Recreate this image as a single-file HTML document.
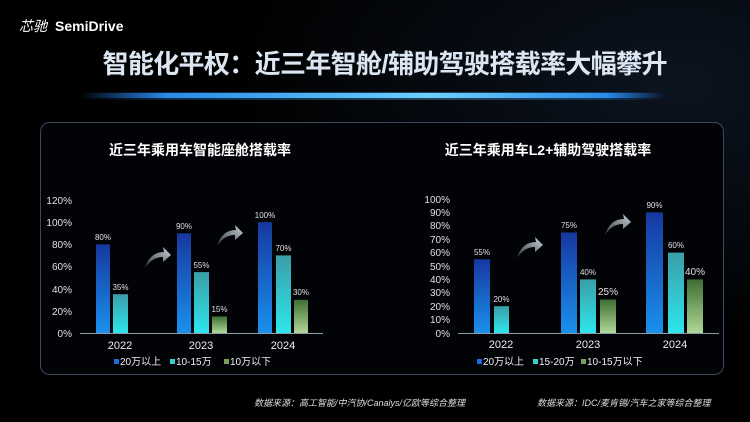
<!DOCTYPE html>
<html><head><meta charset="utf-8"><style>
html,body{margin:0;padding:0;background:#000;width:750px;height:422px;overflow:hidden}
svg{display:block}
text{font-family:"Liberation Sans","Noto Sans CJK SC",sans-serif}
</style></head><body>
<svg width="750" height="422" viewBox="0 0 750 422" xmlns="http://www.w3.org/2000/svg">
<defs>
<linearGradient id="bl" x1="0" y1="0" x2="0" y2="1"><stop offset="0" stop-color="#1638a0"/><stop offset="1" stop-color="#1a90ec"/></linearGradient>
<linearGradient id="cy" x1="0" y1="0" x2="0" y2="1"><stop offset="0" stop-color="#3a9ea8"/><stop offset="1" stop-color="#2ee6ec"/></linearGradient>
<linearGradient id="gr" x1="0" y1="0" x2="0" y2="1"><stop offset="0" stop-color="#3e6e34"/><stop offset="1" stop-color="#b0d898"/></linearGradient>
<linearGradient id="glow" x1="0" y1="0" x2="1" y2="0"><stop offset="0" stop-color="#1a6ad0" stop-opacity="0"/><stop offset="0.15" stop-color="#2a8ae8"/><stop offset="0.6" stop-color="#6ad0ff"/><stop offset="0.9" stop-color="#2a8ae8"/><stop offset="1" stop-color="#1a6ad0" stop-opacity="0"/></linearGradient>
<linearGradient id="arr" x1="0" y1="1" x2="1" y2="0"><stop offset="0" stop-color="#333"/><stop offset="1" stop-color="#c8d4e0"/></linearGradient>
<radialGradient id="bg" cx="0.9" cy="0.2" r="0.6"><stop offset="0" stop-color="#0c1420"/><stop offset="1" stop-color="#000"/></radialGradient>
</defs>
<rect width="750" height="422" fill="url(#bg)"/>
<text x="19" y="31" font-size="14" fill="#fff" font-style="italic">芯驰</text>
<text x="55" y="31" font-size="14" font-weight="bold" fill="#fff">SemiDrive</text>
<text x="385" y="73" font-size="26" font-weight="bold" fill="#dce6f2" text-anchor="middle" textLength="565">智能化平权：近三年智舱/辅助驾驶搭载率大幅攀升</text>
<rect x="80" y="93" width="585" height="5" rx="2.5" fill="url(#glow)"/>
<rect x="80" y="92" width="585" height="8" rx="4" fill="url(#glow)" opacity="0.3"/>
<rect x="40.5" y="122.5" width="683" height="252" rx="9" fill="#020306" stroke="#3a4a5c" stroke-width="1"/>
<text x="200" y="155" font-size="14" font-weight="bold" fill="#fff" text-anchor="middle">近三年乘用车智能座舱搭载率</text>
<text x="548" y="155" font-size="14" font-weight="bold" fill="#fff" text-anchor="middle">近三年乘用车L2+辅助驾驶搭载率</text>
<!-- left chart -->
<g font-size="10" fill="#e0e0e0" text-anchor="end">
<text x="72" y="204">120%</text><text x="72" y="226">100%</text><text x="72" y="248">80%</text><text x="72" y="270">60%</text><text x="72" y="293">40%</text><text x="72" y="315">20%</text><text x="72" y="337">0%</text>
</g>
<rect x="96" y="244.4" width="14" height="88.6" fill="url(#bl)"/>
<rect x="113" y="294.2" width="15" height="38.8" fill="url(#cy)"/>
<rect x="177" y="233.3" width="14" height="99.7" fill="url(#bl)"/>
<rect x="194" y="272.1" width="15" height="60.9" fill="url(#cy)"/>
<rect x="212" y="316.4" width="15" height="16.6" fill="url(#gr)"/>
<rect x="258" y="222.2" width="14" height="110.8" fill="url(#bl)"/>
<rect x="276" y="255.4" width="15" height="77.6" fill="url(#cy)"/>
<rect x="294" y="299.8" width="14" height="33.2" fill="url(#gr)"/>
<line x1="80" y1="333.5" x2="323" y2="333.5" stroke="#8a9aa8" stroke-width="1"/>
<g font-size="8" fill="#e0e0e0" text-anchor="middle">
<text x="103" y="240">80%</text><text x="120.5" y="290">35%</text>
<text x="184" y="229">90%</text><text x="201.5" y="268">55%</text><text x="219.5" y="312">15%</text>
<text x="265" y="218">100%</text><text x="283.5" y="251">70%</text><text x="301" y="295">30%</text>
</g>
<g font-size="11" fill="#eee" text-anchor="middle">
<text x="120" y="349">2022</text><text x="201" y="349">2023</text><text x="283" y="349">2024</text>
</g>
<g font-size="10" fill="#eee">
<rect x="114" y="359" width="5" height="5" fill="#1e6ad8"/><text x="120" y="365">20万以上</text>
<rect x="170" y="359" width="5" height="5" fill="#3ad0d0"/><text x="176" y="365">10-15万</text>
<rect x="224" y="359" width="5" height="5" fill="#7aa060"/><text x="230" y="365">10万以下</text>
</g>
<path d="M145 268 Q150 252 164 252 L163 247 L171 255 L163 262 L163 257 Q152 257 145 268 Z" fill="url(#arr)"/>
<path d="M217 246 Q222 230 236 230 L235 225 L243 233 L235 240 L235 235 Q224 235 217 246 Z" fill="url(#arr)"/>
<!-- right chart -->
<g font-size="10" fill="#e0e0e0" text-anchor="end">
<text x="450" y="203">100%</text><text x="450" y="216">90%</text><text x="450" y="229">80%</text><text x="450" y="243">70%</text><text x="450" y="256">60%</text><text x="450" y="270">50%</text><text x="450" y="283">40%</text><text x="450" y="296">30%</text><text x="450" y="310">20%</text><text x="450" y="323">10%</text><text x="450" y="337">0%</text>
</g>
<rect x="474" y="259.3" width="16" height="73.7" fill="url(#bl)"/>
<rect x="494" y="306.2" width="15" height="26.8" fill="url(#cy)"/>
<rect x="561" y="232.5" width="16" height="100.5" fill="url(#bl)"/>
<rect x="580" y="279.4" width="16" height="53.6" fill="url(#cy)"/>
<rect x="600" y="299.5" width="16" height="33.5" fill="url(#gr)"/>
<rect x="646" y="212.4" width="17" height="120.6" fill="url(#bl)"/>
<rect x="668" y="252.6" width="16" height="80.4" fill="url(#cy)"/>
<rect x="687" y="279.4" width="16" height="53.6" fill="url(#gr)"/>
<line x1="458" y1="333.5" x2="719" y2="333.5" stroke="#8a9aa8" stroke-width="1"/>
<g font-size="8" fill="#e0e0e0" text-anchor="middle">
<text x="482" y="255">55%</text><text x="501.5" y="302">20%</text>
<text x="569" y="228">75%</text><text x="588" y="275">40%</text><text x="608" y="295" font-size="10">25%</text>
<text x="654.5" y="208">90%</text><text x="676" y="248">60%</text><text x="695" y="275" font-size="10">40%</text>
</g>
<g font-size="11" fill="#eee" text-anchor="middle">
<text x="501" y="348">2022</text><text x="588" y="348">2023</text><text x="675" y="348">2024</text>
</g>
<g font-size="10" fill="#eee">
<rect x="477" y="359" width="5" height="5" fill="#1e6ad8"/><text x="483" y="365">20万以上</text>
<rect x="533" y="359" width="5" height="5" fill="#3ad0d0"/><text x="539" y="365">15-20万</text>
<rect x="581" y="359" width="5" height="5" fill="#7aa060"/><text x="587" y="365">10-15万以下</text>
</g>
<path d="M517 258 Q522 242 536 242 L535 237 L543 245 L535 252 L535 247 Q524 247 517 258 Z" fill="url(#arr)"/>
<path d="M605 235 Q610 219 624 219 L623 214 L631 222 L623 229 L623 224 Q612 224 605 235 Z" fill="url(#arr)"/>
<g font-size="9" fill="#ddd" font-style="italic">
<text x="254" y="406">数据来源：高工智能/中汽协/Canalys/亿欧等综合整理</text>
<text x="537" y="406">数据来源：IDC/麦肯锡/汽车之家等综合整理</text>
</g>
</svg>
</body></html>
